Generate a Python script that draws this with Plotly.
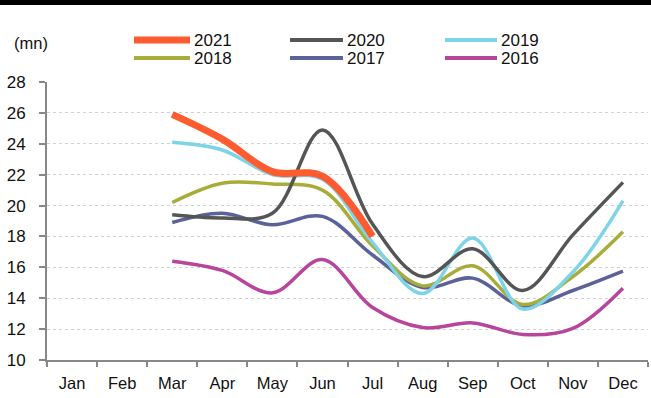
import plotly.graph_objects as go

# Monthly values (mn), Mar..Dec where available
months = ["Jan", "Feb", "Mar", "Apr", "May", "Jun", "Jul", "Aug", "Sep", "Oct", "Nov", "Dec"]

y2021 = [25.9, 24.3, 22.2, 21.9, 18.0]
y2020 = [19.4, 19.2, 19.5, 24.9, 18.8, 15.4, 17.2, 14.5, 18.1, 21.5]
y2019 = [24.1, 23.6, 22.0, 21.7, 17.6, 14.3, 17.9, 13.3, 15.7, 20.3]
y2018 = [20.2, 21.45, 21.4, 21.0, 17.4, 14.8, 16.1, 13.6, 15.4, 18.3]
y2017 = [18.9, 19.5, 18.75, 19.3, 16.8, 14.7, 15.3, 13.5, 14.5, 15.75]
y2016 = [16.4, 15.8, 14.35, 16.5, 13.4, 12.1, 12.4, 11.65, 12.05, 14.65]

years = ["2021", "2020", "2019", "2018", "2017", "2016"]
series = [y2021, y2020, y2019, y2018, y2017, y2016]
colors = ["#FF5B30", "#555555", "#7DD3E8", "#A8AD3A", "#5A6299", "#B8459C"]
widths = [7, 3.5, 3.5, 3.5, 3.5, 3.5]

FONT = "Liberation Sans Narrow, Liberation Sans, Arial, sans-serif"
W, H = 651, 398
L, R, T, B = 47, 3, 82, 38

fig = go.Figure()

# draw older years first so 2021 sits on top
for name, vals, col, w in reversed(list(zip(years, series, colors, widths))):
    fig.add_trace(go.Scatter(
        x=months[2:2 + len(vals)], y=vals, name=name, mode="lines",
        line=dict(color=col, width=w, shape="spline", smoothing=1.0),
        showlegend=False,
    ))


def px_to_paper(px, py):
    pw = W - L - R
    ph = H - T - B
    return (px - L) / pw, (H - B - py) / ph


shapes = []
annotations = []

# legend: three columns, two rows
leg_cols = [(134, 190), (290, 343), (445, 497)]
leg_rows = [40, 58]
for i, (name, col, w) in enumerate(zip(years, colors, widths)):
    x0p, x1p = leg_cols[i % 3]
    rowp = leg_rows[i // 3]
    xa, ya = px_to_paper(x0p, rowp)
    xb, _ = px_to_paper(x1p, rowp)
    shapes.append(dict(type="line", xref="paper", yref="paper", x0=xa, x1=xb, y0=ya, y1=ya,
                       line=dict(color=col, width=w if i == 0 else 4)))
    xt, _ = px_to_paper(x1p + 2, rowp)
    annotations.append(dict(text=name, xref="paper", yref="paper", x=xt, y=ya,
                            xanchor="left", yanchor="middle", showarrow=False,
                            font=dict(size=17, color="#111", family=FONT)))

# unit label
ux, uy = px_to_paper(31, 43)
annotations.append(dict(text="(mn)", xref="paper", yref="paper", x=ux, y=uy,
                        xanchor="center", yanchor="middle", showarrow=False,
                        font=dict(size=16.5, color="#111", family=FONT)))

# heavy rule across the top
bx0, by = px_to_paper(0, 2.5)
bx1, _ = px_to_paper(W, 2.5)
shapes.append(dict(type="line", xref="paper", yref="paper", x0=bx0, x1=bx1, y0=by, y1=by,
                   line=dict(color="#000", width=5)))

fig.update_layout(
    width=W, height=H,
    margin=dict(l=L, r=R, t=T, b=B, pad=0),
    paper_bgcolor="white", plot_bgcolor="white",
    shapes=shapes, annotations=annotations,
    font=dict(family=FONT, color="#111"),
)
fig.update_xaxes(
    type="category", categoryorder="array", categoryarray=months,
    range=[-0.5, 11.5], tickson="boundaries",
    showline=True, linecolor="#888", linewidth=2,
    ticks="outside", ticklen=5, tickcolor="#888", tickwidth=1.5,
    ticklabelstandoff=7,
    showgrid=False, tickfont=dict(size=16.5, family=FONT, color="#111"),
)
fig.update_yaxes(
    range=[10, 28], dtick=2, tick0=10,
    showline=True, linecolor="#888", linewidth=2,
    ticks="outside", ticklen=6, tickcolor="#888", tickwidth=1.5,
    ticklabelstandoff=10,
    showgrid=True, gridcolor="#d0d0d0", griddash="dot", gridwidth=1,
    zeroline=False, tickfont=dict(size=17, family=FONT, color="#111"),
)

fig.write_html("out.html")
